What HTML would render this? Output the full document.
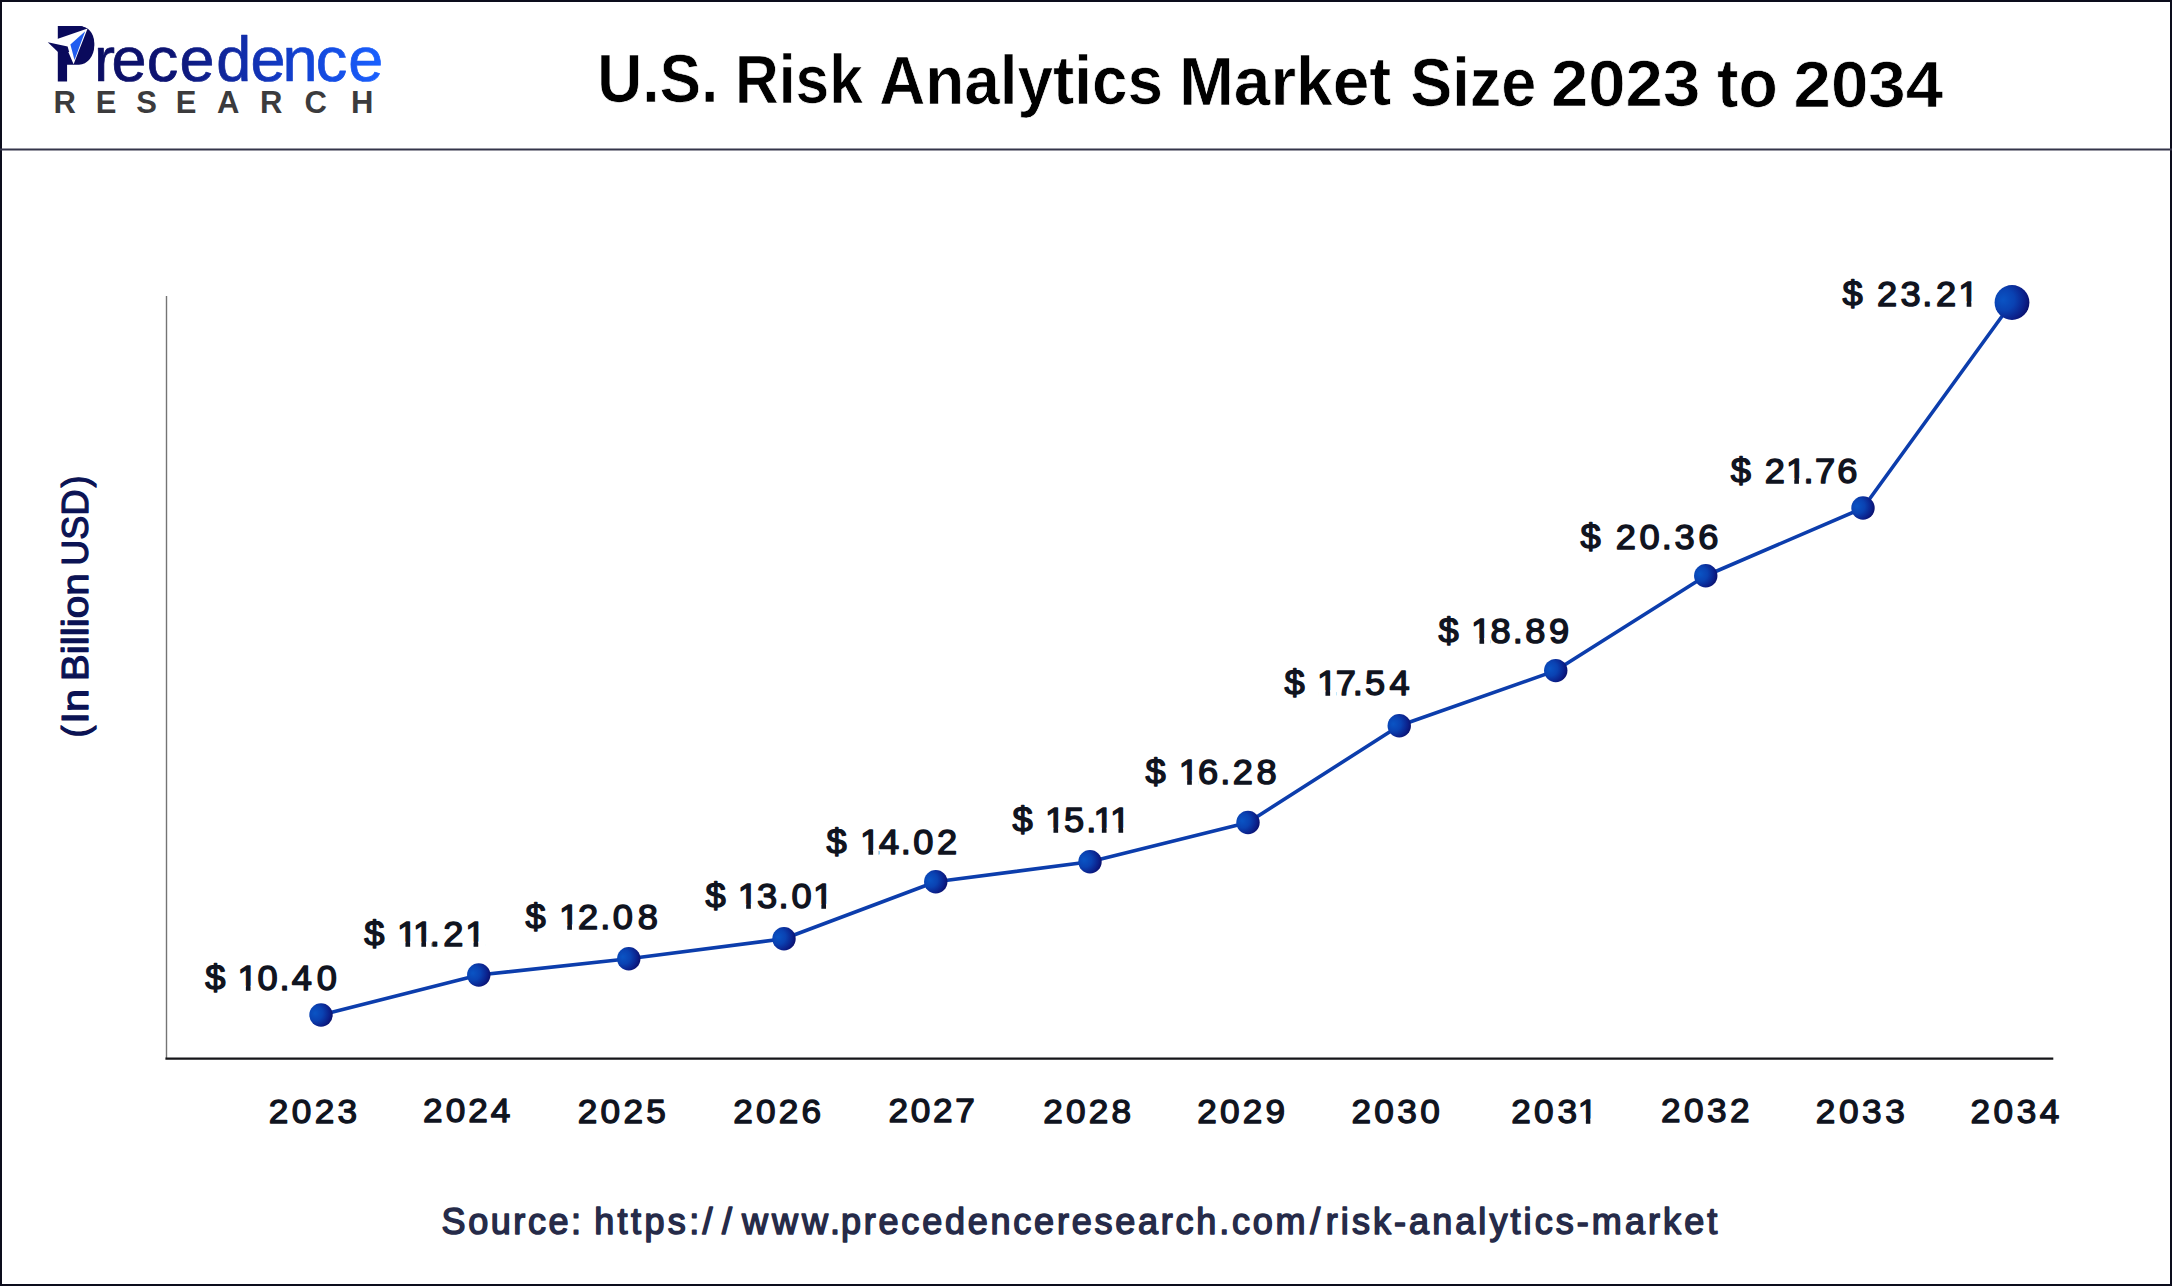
<!DOCTYPE html>
<html lang="en">
<head>
<meta charset="utf-8">
<title>U.S. Risk Analytics Market Size 2023 to 2034</title>
<style>
html,body{margin:0;padding:0;background:#ffffff;}
body{width:2172px;height:1286px;overflow:hidden;position:relative;font-family:"Liberation Sans",sans-serif;}
svg{display:block;position:absolute;left:0;top:0;}
text{font-family:"Liberation Sans",sans-serif;}
.ttl{font-weight:bold;font-size:68px;fill:#000000;stroke:#ffffff;stroke-width:0.7px;}
.val{font-weight:normal;font-size:34.2px;fill:#10141f;stroke:#10141f;stroke-width:1.4px;stroke-linejoin:round;}
.yr{font-weight:normal;font-size:33.5px;fill:#10141f;stroke:#10141f;stroke-width:1.3px;stroke-linejoin:round;}
.src{font-weight:normal;font-size:36px;fill:#262b49;stroke:#262b49;stroke-width:1.5px;stroke-linejoin:round;}
.yax{font-weight:normal;font-size:36px;fill:#0b1354;stroke:#0b1354;stroke-width:1.2px;stroke-linejoin:round;}
.brand{font-weight:normal;font-size:63px;fill:url(#gb);stroke:url(#gb);stroke-width:0.7px;stroke-linejoin:round;}
.brandP{font-weight:bold;font-size:79.5px;fill:#0a0a5c;}
.res{font-weight:bold;font-size:31px;fill:#3b3b3d;}
</style>
</head>
<body>
<svg width="2172" height="1286" viewBox="0 0 2172 1286">
<defs>
<linearGradient id="gb" gradientUnits="userSpaceOnUse" x1="58" y1="0" x2="381" y2="0">
<stop offset="0" stop-color="#0a0a5a"/>
<stop offset="0.35" stop-color="#0d1474"/>
<stop offset="0.6" stop-color="#1230b0"/>
<stop offset="0.8" stop-color="#1348dc"/>
<stop offset="1" stop-color="#1a60ff"/>
</linearGradient>
<radialGradient id="gp" cx="0.3" cy="0.42" r="0.78" fx="0.24" fy="0.42">
<stop offset="0" stop-color="#0a54c4"/>
<stop offset="0.4" stop-color="#0a42b2"/>
<stop offset="0.75" stop-color="#0b208a"/>
<stop offset="1" stop-color="#09095e"/>
</radialGradient>
</defs>
<rect x="0" y="0" width="2172" height="1286" fill="#ffffff"/>
<rect x="1" y="1" width="2170" height="1284" fill="none" stroke="#0c0d1c" stroke-width="2"/>
<line x1="0" y1="149.45" x2="2172" y2="149.45" stroke="#34354a" stroke-width="2.1"/>

<g id="logo">
<text id="bW"><tspan class="brandP" id="bP" x="53.5" y="80.8" textLength="42.95" lengthAdjust="spacingAndGlyphs">P</tspan><tspan class="brand" id="bR" y="80.8" x="94 111.4 146.65 179.55 216.3 250.45 282.55 315.65 348.3">recedence</tspan></text>
<path d="M66,26 H79 A15.3,19.35 0 0 1 79,64.7 H66 Z" fill="#0a0a5c"/>
<polygon points="47.8,42.2 87.6,28.6 73.6,64.2 66.8,48.5" fill="#ffffff"/>
<polygon points="47.8,42.2 67.6,46.4 69.2,52 58.5,52.5" fill="#0a0a5c"/>
<polygon points="70.4,44.5 85.2,31.2 74.5,60.1" fill="#1f5cf0"/>
<text class="res" id="bS" y="112.6" x="53.6 95.7 136.25 175.85 217 260.1 304.45 351.05">RESEARCH</text>
</g>
<text class="ttl" id="ttl"><tspan id="t0" x="597.25" y="102.18" textLength="121.0" lengthAdjust="spacingAndGlyphs">U.S.</tspan> <tspan id="t1" x="735.0" y="102.77" textLength="128.0" lengthAdjust="spacingAndGlyphs">Risk</tspan> <tspan id="t2" x="879.25" y="103.67" textLength="283.75" lengthAdjust="spacingAndGlyphs">Analytics</tspan> <tspan id="t3" x="1179.0" y="104.76" textLength="212.25" lengthAdjust="spacingAndGlyphs">Market</tspan> <tspan id="t4" x="1410.25" y="105.53" textLength="126.0" lengthAdjust="spacingAndGlyphs">Size</tspan> <tspan id="t5" x="1551.0" y="106.15" font-size="64.4px" textLength="149.25" lengthAdjust="spacingAndGlyphs">2023</tspan> <tspan id="t6" x="1717.0" y="106.65" textLength="60.75" lengthAdjust="spacingAndGlyphs">to</tspan> <tspan id="t7" x="1793.5" y="107.15" font-size="64.4px" textLength="149.75" lengthAdjust="spacingAndGlyphs">2034</tspan></text>
<line x1="166.5" y1="296" x2="166.5" y2="1058" stroke="#747474" stroke-width="1.4"/>
<line x1="165.4" y1="1058.55" x2="2053.3" y2="1058.55" stroke="#151518" stroke-width="2.3"/>
<text class="yax" id="yax" transform="translate(88.0 740.0) rotate(-90)"><tspan id="a0" x="2.4" y="0">(</tspan><tspan id="a1" x="16.35" y="0" textLength="34.65" lengthAdjust="spacingAndGlyphs">In</tspan> <tspan id="a2" x="58.75" y="0" textLength="108.15" lengthAdjust="spacingAndGlyphs">Billion</tspan> <tspan id="a3" x="174.15" y="0" textLength="76.4" lengthAdjust="spacing">USD</tspan><tspan id="a4" x="252.48" y="0">)</tspan></text>
<polyline fill="none" stroke="#0c3dac" stroke-width="3.6" stroke-linejoin="round" points="321,1015 478.75,975 628.75,958.75 784,938.75 935.75,881.75 1090,861.75 1248,822.5 1399.25,725.75 1555.75,670.6 1705.75,575.75 1863,508 2012,302.5"/>
<circle cx="321" cy="1015" r="11.7" fill="url(#gp)"/>
<circle cx="478.75" cy="975" r="11.7" fill="url(#gp)"/>
<circle cx="628.75" cy="958.75" r="11.7" fill="url(#gp)"/>
<circle cx="784" cy="938.75" r="11.7" fill="url(#gp)"/>
<circle cx="935.75" cy="881.75" r="11.7" fill="url(#gp)"/>
<circle cx="1090" cy="861.75" r="11.7" fill="url(#gp)"/>
<circle cx="1248" cy="822.5" r="11.7" fill="url(#gp)"/>
<circle cx="1399.25" cy="725.75" r="11.7" fill="url(#gp)"/>
<circle cx="1555.75" cy="670.6" r="11.7" fill="url(#gp)"/>
<circle cx="1705.75" cy="575.75" r="11.7" fill="url(#gp)"/>
<circle cx="1863" cy="508" r="11.7" fill="url(#gp)"/>
<circle cx="2012" cy="302.5" r="17.4" fill="url(#gp)"/>
<g transform="matrix(1.06 0 0 1 0 990.0)"><text class="val" id="v0" x="193.71 212.71 224.05 243.05 263.60 275.36 298.71">$ 10.40</text><rect x="224.95" y="-4.30" width="7.00" height="6.00" fill="#ffffff"/><rect x="236.35" y="-4.30" width="6.70" height="6.00" fill="#ffffff"/></g>
<g transform="matrix(1.06 0 0 1 0 945.9)"><text class="val" id="v1" x="343.71 362.71 374.62 389.62 405.39 418.24 438.86">$ 11.21</text><rect x="375.52" y="-4.30" width="7.00" height="6.00" fill="#ffffff"/><rect x="386.92" y="-4.30" width="5.05" height="6.00" fill="#ffffff"/><rect x="390.52" y="-4.30" width="7.00" height="6.00" fill="#ffffff"/><rect x="401.92" y="-4.30" width="5.33" height="6.00" fill="#ffffff"/><rect x="439.76" y="-4.30" width="7.00" height="6.00" fill="#ffffff"/><rect x="451.16" y="-4.30" width="6.70" height="6.00" fill="#ffffff"/></g>
<g transform="matrix(1.06 0 0 1 0 928.8)"><text class="val" id="v2" x="495.74 514.74 527.26 545.41 566.29 578.00 601.77">$ 12.08</text><rect x="528.16" y="-4.30" width="7.00" height="6.00" fill="#ffffff"/><rect x="539.56" y="-4.30" width="6.27" height="6.00" fill="#ffffff"/></g>
<g transform="matrix(1.06 0 0 1 0 908.15)"><text class="val" id="v3" x="665.69 684.69 696.03 714.14 734.40 746.63 766.98">$ 13.01</text><rect x="696.93" y="-4.30" width="7.00" height="6.00" fill="#ffffff"/><rect x="708.33" y="-4.30" width="6.27" height="6.00" fill="#ffffff"/><rect x="767.88" y="-4.30" width="7.00" height="6.00" fill="#ffffff"/><rect x="779.28" y="-4.30" width="6.70" height="6.00" fill="#ffffff"/></g>
<g transform="matrix(1.06 0 0 1 0 854.0)"><text class="val" id="v4" x="779.84 798.84 811.41 829.23 849.87 861.54 884.04">$ 14.02</text><rect x="812.31" y="-4.30" width="7.00" height="6.00" fill="#ffffff"/><rect x="823.71" y="-4.30" width="5.33" height="6.00" fill="#ffffff"/></g>
<g transform="matrix(1.06 0 0 1 0 832.0)"><text class="val" id="v5" x="955.22 974.22 985.94 1003.85 1024.87 1031.60 1047.26">$ 15.11</text><rect x="986.84" y="-4.30" width="7.00" height="6.00" fill="#ffffff"/><rect x="998.24" y="-4.30" width="6.37" height="6.00" fill="#ffffff"/><rect x="1032.56" y="-4.30" width="6.93" height="6.00" fill="#ffffff"/><rect x="1043.90" y="-4.30" width="4.95" height="6.00" fill="#ffffff"/><rect x="1048.16" y="-4.30" width="7.00" height="6.00" fill="#ffffff"/><rect x="1059.56" y="-4.30" width="6.70" height="6.00" fill="#ffffff"/></g>
<g transform="matrix(1.06 0 0 1 0 784.05)"><text class="val" id="v6" x="1080.79 1099.79 1112.07 1130.31 1151.10 1163.00 1185.31">$ 16.28</text><rect x="1112.97" y="-4.30" width="7.00" height="6.00" fill="#ffffff"/><rect x="1124.37" y="-4.30" width="6.27" height="6.00" fill="#ffffff"/></g>
<g transform="matrix(1.06 0 0 1 0 694.5)"><text class="val" id="v7" x="1211.92 1230.92 1242.54 1260.03 1276.24 1287.76 1310.84">$ 17.54</text><rect x="1243.44" y="-4.30" width="7.00" height="6.00" fill="#ffffff"/><rect x="1254.84" y="-4.30" width="5.99" height="6.00" fill="#ffffff"/></g>
<g transform="matrix(1.06 0 0 1 0 642.5)"><text class="val" id="v8" x="1357.20 1376.20 1387.82 1406.02 1427.04 1438.90 1461.40">$ 18.89</text><rect x="1388.72" y="-4.30" width="7.00" height="6.00" fill="#ffffff"/><rect x="1400.12" y="-4.30" width="5.99" height="6.00" fill="#ffffff"/></g>
<g transform="matrix(1.06 0 0 1 0 548.5)"><text class="val" id="v9" x="1491.16 1510.16 1524.32 1546.63 1567.70 1579.61 1602.10">$ 20.36</text></g>
<g transform="matrix(1.06 0 0 1 0 482.5)"><text class="val" id="v10" x="1632.67 1651.67 1664.89 1684.81 1701.52 1712.20 1733.32">$ 21.76</text><rect x="1685.71" y="-4.30" width="7.00" height="6.00" fill="#ffffff"/><rect x="1697.11" y="-4.30" width="6.27" height="6.00" fill="#ffffff"/></g>
<g transform="matrix(1.06 0 0 1 0 305.7)"><text class="val" id="v11" x="1738.29 1757.29 1770.64 1793.05 1813.55 1826.40 1847.45">$ 23.21</text><rect x="1848.35" y="-4.30" width="7.00" height="6.00" fill="#ffffff"/><rect x="1859.75" y="-4.30" width="6.70" height="6.00" fill="#ffffff"/></g>
<text class="yr" id="y0" transform="matrix(1.05 0 0 1 268.85 1122.8)" textLength="84.05" lengthAdjust="spacing">2023</text>
<text class="yr" id="y1" transform="matrix(1.05 0 0 1 423.07 1121.8999999999999)" textLength="83.1" lengthAdjust="spacing">2024</text>
<text class="yr" id="y2" transform="matrix(1.05 0 0 1 577.79 1122.8)" textLength="83.81" lengthAdjust="spacing">2025</text>
<text class="yr" id="y3" transform="matrix(1.05 0 0 1 733.26 1122.8)" textLength="83.57" lengthAdjust="spacing">2026</text>
<text class="yr" id="y4" transform="matrix(1.05 0 0 1 888.48 1122.0)" textLength="82.14" lengthAdjust="spacing">2027</text>
<text class="yr" id="y5" transform="matrix(1.05 0 0 1 1043.2 1122.8)" textLength="83.57" lengthAdjust="spacing">2028</text>
<text class="yr" id="y6" transform="matrix(1.05 0 0 1 1197.17 1122.8)" textLength="83.81" lengthAdjust="spacing">2029</text>
<text class="yr" id="y7" transform="matrix(1.05 0 0 1 1351.39 1122.8)" textLength="84.29" lengthAdjust="spacing">2030</text>
<g transform="matrix(1.05 0 0 1 0 1122.8)"><text class="yr" id="y8" x="1439.41 1461.03 1483.41 1502.58">2031</text><rect x="1503.48" y="-4.20" width="6.88" height="5.85" fill="#ffffff"/><rect x="1514.60" y="-4.20" width="6.58" height="5.85" fill="#ffffff"/></g>
<text class="yr" id="y9" transform="matrix(1.05 0 0 1 1661.08 1122.2)" textLength="84.29" lengthAdjust="spacing">2032</text>
<text class="yr" id="y10" transform="matrix(1.05 0 0 1 1815.8 1122.8)" textLength="84.76" lengthAdjust="spacing">2033</text>
<text class="yr" id="y11" transform="matrix(1.05 0 0 1 1970.52 1122.8)" textLength="84.52" lengthAdjust="spacing">2034</text>
<text class="src" id="src"><tspan id="s0" x="441.6" y="1233.75" textLength="139.5" lengthAdjust="spacing">Source:</tspan> <tspan id="s1" x="594.15" y="1233.75" textLength="105.05" lengthAdjust="spacing">https:</tspan><tspan id="s2" x="702.5" y="1233.75">/</tspan><tspan id="s3" x="722.0" y="1233.75">/</tspan><tspan id="s4" x="742.0" y="1233.75" textLength="98.0" lengthAdjust="spacing">www.</tspan><tspan id="s5" x="841.0" y="1233.75" textLength="464.5" lengthAdjust="spacing">precedenceresearch.com</tspan><tspan id="s6" x="1310.25" y="1233.75">/</tspan><tspan id="s7" x="1325.75" y="1233.75" textLength="391.5" lengthAdjust="spacing">risk-analytics-market</tspan></text>
</svg>
</body>
</html>
